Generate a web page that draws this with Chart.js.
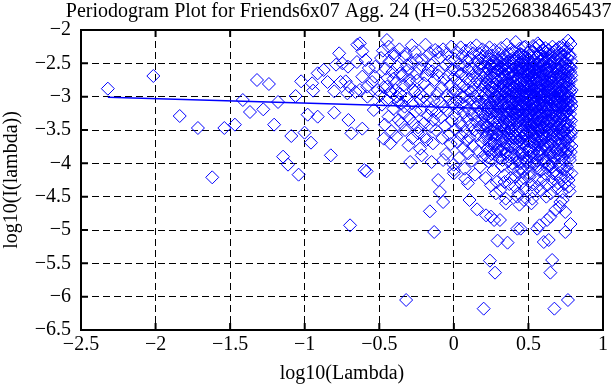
<!DOCTYPE html>
<html>
<head>
<meta charset="utf-8">
<script src="https://cdn.jsdelivr.net/npm/chart.js@4.4.0/dist/chart.umd.min.js"></script>
<style>
  html, body { margin: 0; padding: 0; background: #fff; }
  canvas { display: block; }
</style>
</head>
<body>
<canvas id="periodogram" width="611" height="385"></canvas>
<script>
// axis ticks
const xTickValues = [-2.5, -2, -1.5, -1, -0.5, 0, 0.5, 1];
const yTickValues = [-6.5, -6, -5.5, -5, -4.5, -4, -3.5, -3, -2.5, -2];

// least squares fit over the whole range
const fitLambda = [-2.32, 0.79];
const fitPower = [-3.01, -3.215];

// [log10(lambda), log10(I(lambda))]
const leftPoints = [
  [-2.32,-2.88],[-2.015,-2.69],[-1.838,-3.29],[-1.716,-3.47],[-1.62,-4.21],[-1.539,-3.47],
  [-1.468,-3.42],[-1.415,-3.05],[-1.367,-3.23],[-1.32,-2.75],[-1.278,-3.19],[-1.24,-2.81],
  [-1.205,-3.42],[-1.179,-3.08],[-1.145,-3.9],[-1.112,-4.02],[-1.09,-3.59],[-1.061,-2.99],
  [-1.041,-4.17]
];

const midPoints = [
  [-1.024,-2.77],[-1.001,-3.54],[-0.98,-3.27],[-0.958,-3.69],[-0.95,-2.8],[-0.944,-2.91],
  [-0.913,-3.3],[-0.913,-2.65],[-0.873,-2.6],[-0.847,-2.78],[-0.825,-3.88],[-0.802,-2.92],
  [-0.802,-3.24],[-0.79,-2.52],[-0.769,-2.35],[-0.76,-2.78],[-0.747,-2.5],[-0.725,-2.77],
  [-0.714,-2.95],[-0.71,-2.55],[-0.707,-3.35],[-0.7,-2.85],[-0.696,-4.93],[-0.687,-3.55],
  [-0.659,-2.93],[-0.65,-2.48],[-0.647,-2.22],[-0.63,-2.9],[-0.63,-2.2],[-0.614,-2.32],
  [-0.614,-2.7],[-0.614,-3.48],[-0.6,-4.1],[-0.592,-2.45],[-0.585,-4.12],[-0.581,-2.85],
  [-0.58,-3.0],[-0.57,-2.57],[-0.548,-2.78],[-0.537,-3.2],[-0.53,-2.7],[-0.526,-2.55],
  [-0.51,-2.9],[-0.32,-6.05]
];

const nearPoints = [
  [-0.495,-2.98],[-0.488,-2.42],[-0.482,-3.12],[-0.476,-2.31],[-0.47,-2.86],[-0.47,-3.63],
  [-0.463,-3.42],[-0.457,-2.58],[-0.451,-3.05],[-0.449,-2.15],[-0.448,-2.85],[-0.444,-2.72],
  [-0.438,-3.3],[-0.437,-2.25],[-0.431,-2.47],[-0.426,-3.7],[-0.425,-2.93],[-0.418,-3.52],
  [-0.412,-2.63],[-0.405,-3.18],[-0.404,-2.35],[-0.404,-2.73],[-0.398,-2.39],[-0.392,-2.8],
  [-0.39,-2.9],[-0.386,-3.6],[-0.382,-3.0],[-0.379,-2.55],[-0.372,-3.08],[-0.37,-3.35],
  [-0.365,-2.29],[-0.36,-2.65],[-0.358,-2.96],[-0.351,-3.4],[-0.35,-3.1],[-0.344,-2.68],
  [-0.337,-3.25],[-0.337,-2.83],[-0.33,-3.15],[-0.33,-2.4],[-0.327,-3.5],[-0.322,-2.36],
  [-0.315,-2.53],[-0.315,-3.03],[-0.308,-2.6],[-0.304,-3.73],[-0.3,-3.33],[-0.3,-2.75],
  [-0.293,-2.8],[-0.293,-3.98],[-0.285,-2.5],[-0.282,-2.23],[-0.28,-3.1],[-0.277,-3.62],
  [-0.27,-2.9],[-0.27,-3.4],[-0.262,-2.33],[-0.26,-2.93],[-0.255,-3.22],[-0.25,-2.65],
  [-0.249,-2.45],[-0.247,-2.76],[-0.24,-3.46],[-0.24,-3.55],[-0.232,-2.57],[-0.227,-3.78],
  [-0.227,-2.95],[-0.224,-3.05],[-0.22,-3.2],[-0.216,-3.88],[-0.215,-2.45],[-0.205,-3.0],
  [-0.2,-2.8],[-0.2,-3.4],[-0.195,-3.6],[-0.19,-2.22],[-0.185,-2.68],[-0.183,-2.4],
  [-0.183,-3.65],[-0.18,-3.05],[-0.175,-3.28],[-0.17,-2.6],[-0.165,-2.9],[-0.161,-4.72],
  [-0.16,-2.35],[-0.155,-3.45],[-0.15,-3.2],[-0.149,-2.53],[-0.149,-3.98],[-0.145,-2.62],
  [-0.14,-3.7],[-0.138,-3.35],[-0.135,-3.05],[-0.132,-5.03],[-0.13,-2.75],[-0.125,-2.3],
  [-0.12,-3.5],[-0.115,-3.25],[-0.11,-2.95],[-0.105,-2.33],[-0.105,-4.25],[-0.105,-2.68],
  [-0.094,-4.43],[-0.072,-4.58],[-0.072,-3.95]
];

const cloudPoints = [
  [-0.098,-2.62],[-0.093,-3.08],[-0.089,-2.41],[-0.085,-3.31],[-0.081,-2.87],[-0.077,-3.62],
  [-0.072,-2.29],[-0.068,-3.15],[-0.064,-2.74],[-0.06,-3.44],[-0.056,-2.53],[-0.052,-3.86],
  [-0.049,-2.98],[-0.046,-2.36],[-0.042,-3.22],[-0.039,-2.68],[-0.035,-3.57],[-0.032,-2.47],
  [-0.028,-3.03],[-0.025,-2.83],[-0.021,-3.71],[-0.018,-2.25],[-0.014,-3.36],[-0.011,-2.59],
  [-0.007,-3.12],[-0.004,-2.94],[-0.001,-4.02],
  [0.002,-2.71],[0.005,-3.27],[0.008,-2.44],[0.011,-3.49],[0.014,-2.9],[0.017,-3.05],
  [0.02,-2.33],[0.023,-3.68],[0.026,-2.62],[0.029,-3.18],[0.032,-2.8],[0.035,-3.92],
  [0.038,-2.52],[0.041,-3.39],[0.043,-2.97],[0.046,-2.26],[0.048,-3.58],[0.05,-3.1],
  [0.052,-2.66],[0.055,-3.44],[0.057,-2.39],[0.06,-3.01],[0.062,-3.77],[0.065,-2.84],
  [0.067,-3.24],[0.07,-2.55],[0.072,-4.08],[0.075,-2.99],[0.077,-3.53],[0.08,-2.31],
  [0.082,-3.14],[0.085,-2.73],[0.087,-3.66],[0.09,-2.47],[0.092,-3.34],[0.095,-2.9],
  [0.097,-3.85],[0.099,-2.6],
  [0.101,-3.2],[0.103,-2.42],[0.106,-3.61],[0.108,-2.78],[0.11,-3.04],[0.112,-2.27],
  [0.115,-3.42],[0.117,-2.93],[0.119,-3.96],[0.121,-2.58],[0.124,-3.27],[0.126,-2.69],
  [0.128,-3.74],[0.13,-2.35],[0.133,-3.12],[0.135,-2.86],[0.137,-3.5],[0.139,-2.5],
  [0.142,-4.17],[0.144,-3.0],[0.146,-2.64],[0.148,-3.37],
  [0.151,-2.23],[0.153,-3.15],[0.155,-2.76],[0.157,-3.58],[0.159,-2.45],[0.161,-3.29],
  [0.163,-2.95],[0.165,-3.82],[0.167,-2.57],[0.169,-3.07],[0.171,-2.36],[0.173,-3.46],
  [0.175,-2.82],[0.177,-4.05],[0.179,-2.67],[0.181,-3.22],[0.183,-2.5],[0.185,-3.68],
  [0.187,-2.9],[0.189,-3.35],[0.191,-2.29],[0.193,-3.01],[0.195,-3.9],[0.197,-2.72],
  [0.199,-3.52],
  [0.201,-2.4],[0.203,-3.12],[0.204,-2.85],[0.206,-3.63],[0.208,-2.55],[0.21,-3.3],
  [0.212,-2.97],[0.214,-4.22],[0.215,-2.66],[0.217,-3.44],[0.219,-2.33],[0.221,-3.05],
  [0.223,-3.78],[0.224,-2.78],[0.226,-3.2],[0.228,-2.48],[0.23,-3.55],[0.232,-2.91],
  [0.233,-3.97],[0.235,-2.6],[0.237,-3.36],[0.239,-2.26],[0.241,-3.09],[0.242,-3.7],
  [0.244,-2.82],[0.246,-3.48],[0.248,-2.52],[0.249,-3.24],
  [0.251,-2.95],[0.253,-3.86],[0.254,-2.38],[0.256,-3.16],[0.258,-2.71],[0.259,-3.58],
  [0.261,-2.87],[0.263,-3.33],[0.264,-2.5],[0.266,-4.1],[0.268,-3.02],[0.269,-2.64],
  [0.271,-3.47],[0.273,-2.3],[0.274,-3.74],[0.276,-2.8],[0.278,-3.21],[0.279,-2.56],
  [0.281,-3.62],[0.283,-2.99],[0.284,-2.42],[0.286,-3.39],[0.288,-4.28],[0.289,-2.74],
  [0.291,-3.11],[0.293,-2.6],[0.294,-3.8],[0.296,-2.92],[0.298,-3.27],[0.299,-2.46],
  [0.301,-3.53],[0.302,-2.68],[0.304,-3.06],[0.305,-2.35],[0.307,-3.92],[0.308,-2.84],
  [0.31,-3.3],[0.311,-2.55],[0.313,-3.66],[0.314,-2.97],[0.316,-3.18],[0.317,-2.27],
  [0.319,-3.45],[0.32,-2.76],[0.322,-4.04],[0.323,-2.63],[0.325,-3.24],[0.326,-2.9],
  [0.328,-3.59],[0.329,-2.45],[0.331,-3.13],[0.332,-3.77],[0.334,-2.81],[0.335,-3.37],
  [0.337,-2.52],[0.338,-4.18],[0.34,-3.0],[0.341,-2.7],[0.343,-3.5],[0.344,-2.38],
  [0.346,-3.21],[0.348,-3.85],
  [0.351,-2.93],[0.352,-2.58],[0.354,-3.41],[0.355,-2.22],[0.357,-3.08],[0.358,-3.72],
  [0.36,-2.79],[0.361,-3.28],[0.362,-2.47],[0.364,-3.97],[0.365,-2.99],[0.367,-3.55],
  [0.368,-2.66],[0.369,-3.16],[0.371,-2.36],[0.372,-4.31],[0.374,-2.87],[0.375,-3.35],
  [0.377,-2.55],[0.378,-3.63],[0.379,-3.04],[0.381,-2.73],[0.382,-3.48],[0.384,-2.29],
  [0.385,-3.22],[0.386,-3.88],[0.388,-2.83],[0.389,-2.6],[0.391,-3.12],[0.392,-3.68],
  [0.393,-2.43],[0.395,-3.31],[0.396,-2.95],[0.398,-4.07],[0.399,-2.7],
  [0.401,-3.43],[0.402,-2.52],[0.403,-3.1],[0.405,-2.86],[0.406,-3.76],[0.407,-2.33],
  [0.409,-3.25],[0.41,-2.68],[0.411,-3.58],[0.413,-2.96],[0.414,-4.2],[0.415,-2.18],
  [0.417,-3.18],[0.418,-2.77],[0.419,-3.51],[0.421,-2.45],[0.422,-3.02],[0.423,-3.92],
  [0.425,-2.61],[0.426,-3.36],[0.427,-2.89],[0.429,-3.67],[0.43,-2.39],[0.431,-3.14],
  [0.433,-4.45],[0.434,-2.74],[0.435,-3.29],[0.437,-2.56],[0.438,-3.83],[0.439,-3.0],
  [0.441,-2.28],[0.442,-3.47],[0.443,-2.82],[0.445,-3.2],[0.446,-2.64],[0.447,-4.0],
  [0.449,-3.06],[0.45,-2.49],
  [0.451,-3.39],[0.452,-2.91],[0.453,-3.61],[0.455,-2.37],[0.456,-3.15],[0.457,-2.72],
  [0.458,-3.86],[0.46,-2.58],[0.461,-3.27],[0.462,-2.98],[0.463,-4.13],[0.465,-2.46],
  [0.466,-3.5],[0.467,-2.81],[0.468,-3.09],[0.47,-2.26],[0.471,-3.72],[0.472,-2.66],
  [0.473,-3.34],[0.474,-2.93],[0.476,-4.38],[0.477,-2.53],[0.478,-3.21],[0.479,-3.57],
  [0.48,-2.25],[0.482,-3.03],[0.483,-2.77],[0.484,-3.95],[0.485,-2.41],[0.486,-3.43],
  [0.488,-2.87],[0.489,-3.12],[0.49,-3.66],[0.491,-2.6],[0.492,-3.29],[0.494,-4.06],
  [0.495,-2.34],[0.496,-3.0],[0.497,-2.7],[0.499,-3.53],
  [0.5,-2.84],[0.501,-3.18],[0.502,-2.44],[0.503,-3.78],[0.505,-2.95],[0.506,-3.37],
  [0.507,-2.63],[0.508,-4.2],[0.509,-3.05],[0.51,-2.31],[0.512,-3.55],[0.513,-2.77],
  [0.514,-3.24],[0.515,-2.52],[0.516,-3.9],[0.517,-2.9],[0.519,-3.42],[0.52,-2.69],
  [0.521,-3.13],[0.522,-2.38],[0.523,-3.68],[0.524,-4.32],[0.525,-2.82],[0.527,-3.3],
  [0.528,-2.57],[0.529,-3.01],[0.53,-3.84],[0.531,-2.24],[0.532,-3.47],[0.533,-2.74],
  [0.535,-3.19],[0.536,-2.98],[0.537,-3.62],[0.538,-2.48],[0.539,-4.01],[0.54,-3.09],
  [0.541,-2.66],[0.542,-3.4],[0.544,-2.87],[0.545,-3.73],[0.547,-2.27],[0.549,-3.26],
  [0.551,-2.59],[0.552,-3.52],[0.553,-2.93],[0.554,-3.15],[0.555,-2.41],[0.556,-3.96],
  [0.557,-2.79],[0.558,-3.33],[0.559,-2.64],[0.56,-3.07],[0.562,-4.24],[0.563,-2.2],
  [0.564,-3.6],[0.565,-2.86],[0.566,-3.22],[0.567,-2.5],[0.568,-3.81],[0.569,-2.97],
  [0.57,-2.23],[0.571,-3.44],[0.572,-2.71],[0.573,-3.11],[0.574,-4.09],[0.575,-2.55],
  [0.577,-3.36],[0.578,-2.9],[0.579,-3.67],[0.58,-2.36],[0.581,-3.02],[0.582,-2.76],
  [0.583,-3.49],[0.584,-4.41],[0.585,-2.62],[0.586,-3.27],[0.587,-2.99],[0.588,-3.87],
  [0.59,-2.45],[0.591,-3.17],[0.592,-2.83],[0.593,-3.57],[0.594,-2.3],[0.596,-3.39],
  [0.597,-2.69],[0.599,-3.74],
  [0.6,-3.05],[0.601,-2.53],[0.602,-3.3],[0.603,-2.88],[0.604,-3.93],[0.605,-2.4],
  [0.606,-3.46],[0.607,-2.74],[0.608,-3.14],[0.609,-2.96],[0.61,-4.15],[0.611,-2.61],
  [0.612,-3.62],[0.613,-2.27],[0.614,-3.23],[0.615,-2.81],[0.616,-3.41],[0.617,-2.67],
  [0.618,-3.79],[0.619,-3.0],[0.62,-2.47],[0.622,-3.53],[0.623,-2.91],[0.624,-3.19],
  [0.625,-4.33],[0.626,-2.35],[0.627,-3.35],[0.628,-2.78],[0.629,-3.68],[0.63,-2.58],
  [0.631,-3.09],[0.632,-2.98],[0.633,-3.89],[0.634,-2.3],[0.635,-3.27],[0.636,-2.85],
  [0.637,-3.5],[0.639,-2.64],[0.64,-4.04],[0.641,-3.12],[0.642,-2.43],[0.643,-3.58],
  [0.644,-2.92],[0.646,-3.38],[0.647,-2.72],[0.649,-3.02],
  [0.65,-2.55],[0.651,-3.71],[0.652,-2.89],[0.653,-3.24],[0.654,-2.38],[0.655,-3.99],
  [0.656,-2.76],[0.657,-3.44],[0.658,-3.07],[0.659,-2.62],[0.66,-3.6],[0.661,-2.25],
  [0.662,-3.17],[0.663,-4.27],[0.664,-2.84],[0.665,-3.33],[0.666,-2.49],[0.667,-3.84],
  [0.668,-2.97],[0.669,-3.11],[0.67,-2.68],[0.671,-3.52],[0.672,-2.33],[0.673,-3.93],
  [0.674,-3.0],[0.675,-2.8],[0.676,-3.39],[0.677,-2.58],[0.678,-4.12],[0.679,-3.21],
  [0.68,-2.92],[0.681,-3.65],[0.682,-2.44],[0.683,-3.28],[0.684,-2.71],[0.685,-3.77],
  [0.686,-3.04],[0.687,-2.29],[0.688,-3.47],[0.689,-2.86],[0.69,-4.38],[0.691,-3.14],
  [0.692,-2.6],[0.693,-3.57],[0.695,-2.95],[0.696,-3.36],[0.697,-2.4],[0.699,-3.87],
  [0.7,-2.78],[0.701,-3.2],[0.702,-2.52],[0.703,-3.63],[0.704,-2.99],[0.705,-3.42],
  [0.706,-2.26],[0.707,-4.02],[0.708,-2.87],[0.709,-3.08],[0.71,-2.65],[0.711,-3.55],
  [0.712,-3.29],[0.713,-2.43],[0.714,-3.8],[0.715,-2.93],[0.716,-3.15],[0.717,-2.7],
  [0.718,-4.22],[0.719,-3.48],[0.72,-2.35],[0.721,-3.01],[0.722,-3.69],[0.723,-2.83],
  [0.724,-3.25],[0.725,-2.57],[0.726,-3.92],[0.727,-3.11],[0.728,-2.47],[0.729,-3.58],
  [0.73,-2.9],[0.731,-3.34],[0.732,-2.23],[0.733,-4.1],[0.734,-3.05],[0.735,-2.74],
  [0.736,-3.45],[0.737,-2.61],[0.738,-3.75],[0.739,-3.18],[0.74,-2.39],[0.741,-3.61],
  [0.742,-2.96],[0.743,-4.31],[0.744,-3.27],[0.745,-2.68],[0.746,-3.52],[0.747,-2.85],
  [0.748,-3.12],[0.749,-2.5],
  [0.75,-3.86],[0.751,-3.03],[0.752,-2.3],[0.753,-3.4],[0.754,-2.77],[0.755,-3.66],
  [0.756,-2.59],[0.757,-3.22],[0.758,-4.05],[0.759,-2.92],[0.76,-3.49],[0.761,-2.42],
  [0.762,-3.1],[0.763,-3.78],[0.764,-2.69],[0.765,-3.31],[0.766,-2.16],[0.767,-2.98],
  [0.768,-3.57],[0.769,-4.25],[0.77,-2.82],[0.771,-3.17],[0.772,-2.54],[0.773,-3.71],
  [0.774,-3.0],[0.775,-2.37],[0.776,-3.43],[0.777,-2.88],[0.778,-3.95],[0.779,-3.26],
  [0.78,-2.63],[0.781,-3.6],[0.782,-2.21],[0.783,-3.07],[0.784,-3.83],[0.785,-2.75],
  [0.786,-3.36],[0.787,-2.47],[0.788,-4.15],[0.789,-3.14],[0.79,-2.9],[0.79,-3.52],
  [0.785,-2.57],[0.776,-4.42],[0.762,-2.27]
];

// the solid core of the cloud
const corePoints = [
  [0.202,-3.41],[0.205,-2.64],[0.207,-3.08],[0.209,-3.87],[0.211,-2.81],[0.213,-3.26],
  [0.216,-2.49],[0.218,-3.59],[0.22,-3.02],[0.222,-2.72],[0.225,-3.44],[0.227,-3.91],
  [0.229,-2.58],[0.231,-3.17],[0.234,-2.92],[0.236,-3.66],[0.238,-2.44],[0.24,-3.31],
  [0.243,-3.79],[0.245,-2.69],[0.247,-3.12],[0.25,-2.86],[0.252,-3.52],[0.255,-2.55],
  [0.257,-3.95],[0.26,-3.21],[0.262,-2.78],[0.265,-3.38],[0.267,-2.47],[0.27,-3.7],
  [0.272,-3.06],[0.275,-2.62],[0.277,-3.48],[0.28,-2.9],[0.282,-3.83],[0.285,-3.14],
  [0.287,-2.52],[0.29,-3.57],[0.293,-3.0],[0.297,-2.76],
  [0.3,-3.18],[0.302,-3.74],[0.304,-2.61],[0.306,-3.36],[0.308,-2.98],[0.31,-2.48],
  [0.312,-3.82],[0.314,-3.22],[0.316,-2.72],[0.318,-3.54],[0.32,-3.07],[0.322,-2.56],
  [0.324,-3.43],[0.326,-3.95],[0.328,-2.84],[0.33,-3.28],[0.332,-2.43],[0.334,-3.65],
  [0.336,-3.1],[0.338,-2.68],[0.34,-3.47],[0.342,-2.94],[0.344,-3.86],[0.346,-2.59],
  [0.348,-3.32],[0.35,-3.02],[0.352,-3.69],[0.354,-2.76],[0.356,-2.5],[0.358,-3.25],
  [0.36,-3.58],[0.362,-2.88],[0.364,-3.13],[0.366,-2.65],[0.368,-3.9],[0.37,-3.39],
  [0.372,-2.8],[0.374,-3.05],[0.376,-2.45],[0.378,-3.75],[0.38,-3.19],[0.382,-2.92],
  [0.384,-3.51],[0.386,-2.63],[0.388,-3.34],[0.39,-4.0],[0.392,-2.85],[0.394,-3.08],
  [0.396,-2.54],[0.398,-3.62],[0.399,-3.27],[0.385,-2.99],[0.365,-3.45],[0.345,-2.78],
  [0.325,-3.63],
  [0.4,-2.79],[0.402,-3.56],[0.403,-3.03],[0.405,-2.47],[0.406,-3.33],[0.408,-3.88],
  [0.409,-2.66],[0.411,-3.15],[0.412,-2.94],[0.414,-3.71],[0.415,-2.55],[0.417,-3.4],
  [0.418,-3.06],[0.42,-2.83],[0.421,-3.62],[0.423,-2.41],[0.424,-3.24],[0.426,-3.97],
  [0.427,-2.73],[0.429,-3.11],[0.43,-3.49],[0.432,-2.6],[0.433,-2.97],[0.435,-3.78],
  [0.436,-3.2],[0.438,-2.5],[0.439,-3.36],[0.441,-2.87],[0.442,-3.66],[0.444,-3.04],
  [0.445,-2.69],[0.447,-3.53],[0.448,-2.36],[0.45,-3.28],[0.451,-3.85],[0.453,-2.8],
  [0.454,-3.13],[0.456,-3.44],[0.457,-2.58],[0.459,-3.0],[0.46,-3.7],[0.462,-2.91],
  [0.463,-3.35],[0.465,-2.64],[0.466,-3.92],[0.468,-3.18],[0.469,-2.75],[0.471,-3.58],
  [0.472,-2.46],[0.474,-3.09],[0.475,-3.47],[0.477,-2.86],[0.478,-3.76],[0.48,-3.23],
  [0.481,-2.62],[0.483,-3.39],[0.484,-2.99],[0.486,-3.64],[0.487,-2.53],[0.489,-3.3],
  [0.49,-3.98],[0.492,-2.78],[0.493,-3.16],[0.495,-3.51],[0.496,-2.67],[0.498,-3.07],
  [0.499,-3.81],[0.476,-2.4],[0.455,-4.08],[0.434,-4.12],
  [0.501,-2.58],[0.502,-3.41],[0.503,-2.96],[0.505,-3.67],[0.506,-2.73],[0.507,-3.22],
  [0.508,-3.89],[0.51,-2.49],[0.511,-3.05],[0.512,-3.54],[0.513,-2.84],[0.515,-3.3],
  [0.516,-2.62],[0.517,-3.76],[0.518,-3.12],[0.52,-2.42],[0.521,-3.45],[0.522,-2.93],
  [0.523,-3.98],[0.525,-3.19],[0.526,-2.68],[0.527,-3.6],[0.528,-3.03],[0.53,-2.55],
  [0.531,-3.35],[0.532,-2.8],[0.533,-3.83],[0.535,-3.09],[0.536,-2.46],[0.537,-3.49],
  [0.538,-2.89],[0.54,-3.71],[0.541,-3.24],[0.542,-2.6],[0.543,-3.14],[0.545,-2.98],
  [0.546,-3.92],[0.547,-2.74],[0.548,-3.38],[0.55,-3.0],[0.551,-2.52],[0.552,-3.63],
  [0.553,-3.17],[0.555,-2.86],[0.556,-3.44],[0.557,-2.66],[0.558,-4.03],[0.56,-3.27],
  [0.561,-2.39],[0.562,-3.06],[0.563,-3.56],[0.565,-2.78],[0.566,-3.32],[0.567,-2.95],
  [0.568,-3.73],[0.57,-2.57],[0.571,-3.2],[0.572,-3.86],[0.573,-2.7],[0.575,-3.1],
  [0.576,-3.5],[0.577,-2.47],[0.578,-3.39],[0.58,-2.91],[0.581,-3.64],[0.582,-3.01],
  [0.583,-2.63],[0.585,-3.79],[0.586,-3.15],[0.587,-2.82],[0.588,-3.46],[0.59,-2.53],
  [0.591,-3.25],[0.592,-3.95],[0.593,-2.97],[0.595,-3.34],[0.596,-2.72],[0.597,-3.58],
  [0.598,-3.08],[0.599,-2.44],
  [0.601,-3.37],[0.603,-2.66],[0.605,-3.72],[0.607,-3.1],[0.609,-2.51],[0.611,-3.29],
  [0.613,-2.94],[0.615,-3.61],[0.617,-2.77],[0.619,-3.97],[0.621,-3.16],[0.623,-2.58],
  [0.625,-3.44],[0.627,-3.04],[0.629,-2.85],[0.631,-3.75],[0.633,-2.46],[0.635,-3.23],
  [0.637,-3.55],[0.639,-2.9],[0.641,-3.36],[0.643,-2.69],[0.645,-3.85],[0.647,-3.13],
  [0.649,-2.55],[0.651,-3.48],[0.653,-2.96],[0.655,-3.66],[0.657,-2.79],[0.659,-3.26],
  [0.661,-3.02],[0.663,-2.61],[0.665,-3.58],[0.667,-3.2],[0.669,-2.47],[0.671,-3.9],
  [0.673,-2.88],[0.675,-3.4],[0.677,-3.07],[0.679,-2.72],[0.681,-3.52],[0.683,-2.99],
  [0.685,-3.3],[0.687,-2.57],[0.689,-3.8],[0.691,-3.15],[0.693,-2.83],[0.695,-3.62],
  [0.697,-2.68],[0.699,-3.09],[0.625,-4.07],[0.645,-2.36],[0.665,-4.15],[0.685,-2.42],
  [0.615,-2.33],
  [0.701,-3.46],[0.703,-2.89],[0.705,-3.71],[0.707,-2.6],[0.709,-3.24],[0.711,-3.0],
  [0.713,-3.88],[0.715,-2.74],[0.717,-3.37],[0.719,-2.53],[0.721,-3.57],[0.723,-3.13],
  [0.725,-2.92],[0.727,-3.79],[0.729,-2.65],[0.731,-3.28],[0.733,-3.52],[0.735,-2.81],
  [0.737,-3.06],[0.739,-3.95],[0.741,-2.58],[0.743,-3.4],[0.745,-3.17],[0.747,-2.72],
  [0.749,-3.66],[0.751,-2.97],[0.753,-3.23],[0.755,-2.49],[0.757,-3.83],[0.759,-3.11],
  [0.761,-2.84],[0.763,-3.47],[0.765,-2.62],[0.767,-3.62],[0.769,-3.03],[0.771,-2.76],
  [0.773,-3.34],[0.775,-3.9],[0.777,-2.55],[0.779,-3.19],[0.781,-2.93],[0.783,-3.55],
  [0.785,-3.08],[0.787,-2.68],[0.789,-3.74],[0.72,-4.05],[0.74,-2.32],[0.76,-4.12],
  [0.78,-2.4],[0.73,-2.28]
];

// lower tail of the cloud
const tailPoints = [
  [0.0,-4.15],[0.0,-4.1],[0.077,-4.23],[0.094,-4.3],[0.105,-4.55],[0.156,-4.69],
  [0.216,-4.78],[0.249,-4.8],[0.249,-4.33],[0.27,-4.85],[0.282,-4.45],[0.309,-4.85],
  [0.293,-5.16],[0.36,-5.19],[0.242,-5.46],[0.276,-5.64],[0.2,-6.18],[0.348,-4.53],
  [0.426,-4.5],[0.426,-4.98],[0.448,-4.98],[0.47,-4.55],[0.526,-4.53],[0.559,-4.98],
  [0.575,-4.93],[0.625,-4.85],[0.647,-4.8],[0.603,-5.18],[0.636,-5.15],[0.659,-5.45],
  [0.647,-5.64],[0.674,-6.18],[0.765,-6.05],[0.747,-5.03],[0.782,-4.91],[0.68,-4.7],
  [0.747,-4.73],[0.714,-4.58],[0.725,-4.43],
  [0.31,-4.4],[0.38,-4.22],[0.45,-4.3],[0.5,-4.15],[0.56,-4.35],[0.6,-4.25],
  [0.65,-4.45],[0.7,-4.3],[0.73,-4.55],[0.77,-4.35],[0.53,-4.42],[0.41,-4.35],
  [0.34,-4.28],[0.62,-4.5],[0.69,-4.18],[0.58,-4.12],[0.47,-4.22],[0.75,-4.2],
  [0.66,-4.05],[0.52,-4.6],[0.44,-4.62],[0.71,-4.65],[0.35,-4.6]
];

const toXY = p => ({ x: p[0], y: p[1] });
const allPoints = [].concat(leftPoints, midPoints, nearPoints, cloudPoints, corePoints, tailPoints).map(toXY);
const fitLine = fitLambda.map((v, i) => ({ x: v, y: fitPower[i] }));

const minus = v => (v < 0 ? '\u2212' + Math.abs(v) : String(v));

// the title is centred over the axes and may run off the canvas, as in the original
const wideTitle = {
  id: 'wideTitle',
  afterLayout(chart) {
    const t = chart.titleBlock;
    const mid = (chart.chartArea.left + chart.chartArea.right) / 2;
    t.left = mid - 400;
    t.right = mid + 400;
    t.width = 800;
  }
};

// MATLAB style box with inward tick marks
const axesBox = {
  id: 'axesBox',
  afterDraw(chart) {
    const { ctx, chartArea: a, scales } = chart;
    const len = 7;
    ctx.save();
    ctx.strokeStyle = '#000';
    ctx.lineWidth = 2;
    ctx.beginPath();
    scales.x.ticks.forEach(t => {
      const px = scales.x.getPixelForValue(t.value);
      ctx.moveTo(px, a.bottom); ctx.lineTo(px, a.bottom - len);
      ctx.moveTo(px, a.top); ctx.lineTo(px, a.top + len);
    });
    scales.y.ticks.forEach(t => {
      const py = scales.y.getPixelForValue(t.value);
      ctx.moveTo(a.left, py); ctx.lineTo(a.left + len, py);
      ctx.moveTo(a.right, py); ctx.lineTo(a.right - len, py);
    });
    ctx.stroke();
    ctx.strokeRect(a.left, a.top, a.right - a.left, a.bottom - a.top);
    ctx.restore();
  }
};

Chart.defaults.font.family = "'Liberation Serif', 'Times New Roman', serif";
Chart.defaults.font.size = 20;
Chart.defaults.color = '#000';

new Chart(document.getElementById('periodogram'), {
  type: 'scatter',
  data: {
    datasets: [
      {
        data: fitLine,
        showLine: true,
        borderColor: '#0000ff',
        borderWidth: 1.5,
        pointRadius: 0,
        order: 0
      },
      {
        data: allPoints,
        pointStyle: 'rectRot',
        pointRadius: 6.5,
        pointHoverRadius: 6.5,
        borderWidth: 1,
        borderColor: '#0000ff',
        backgroundColor: 'rgba(0,0,0,0)',
        order: 1
      }
    ]
  },
  options: {
    responsive: false,
    animation: false,
    devicePixelRatio: 1,
    layout: { padding: { left: 0, right: 3, top: 0, bottom: 0 } },
    plugins: {
      legend: { display: false },
      tooltip: { enabled: false },
      title: {
        display: true,
        text: 'Periodogram Plot for Friends6x07 Agg. 24 (H=0.532526838465437)',
        fullSize: false,
        font: { size: 20, weight: 'normal', lineHeight: 1.2 },
        padding: { top: 0, bottom: 6 }
      }
    },
    scales: {
      x: {
        type: 'linear',
        min: -2.5,
        max: 1,
        afterBuildTicks: s => { s.ticks = xTickValues.map(v => ({ value: v })); },
        afterFit: s => { s.height = 55; },
        ticks: { padding: 3, maxRotation: 0, callback: minus },
        grid: { color: '#000', lineWidth: 1, drawTicks: false },
        border: { display: false, dash: [7, 4] },
        title: { display: true, text: 'log10(Lambda)', font: { size: 20, lineHeight: 1 }, padding: { top: 0, bottom: 1 } }
      },
      y: {
        type: 'linear',
        min: -6.5,
        max: -2,
        afterBuildTicks: s => { s.ticks = yTickValues.map(v => ({ value: v })); },
        afterFit: s => { s.width = 81; },
        ticks: { padding: 10, callback: minus },
        grid: { color: '#000', lineWidth: 1, drawTicks: false },
        border: { display: false, dash: [7, 4] },
        title: { display: true, text: 'log10(I(lambda))', font: { size: 20, lineHeight: 1 }, padding: { top: 2, bottom: 0 } }
      }
    }
  },
  plugins: [wideTitle, axesBox]
});
</script>
</body>
</html>
